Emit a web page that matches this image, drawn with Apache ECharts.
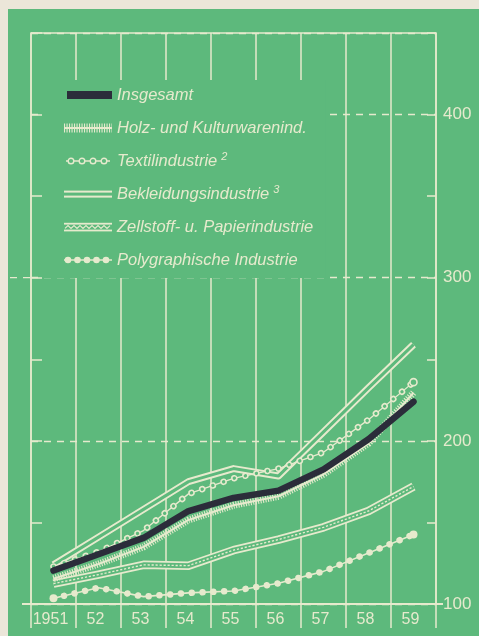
<!DOCTYPE html>
<html>
<head>
<meta charset="utf-8">
<script src="https://cdn.jsdelivr.net/npm/echarts@6/dist/echarts.min.js"></script>
<style>
  html, body { margin: 0; padding: 0; width: 479px; height: 636px; background: #ebe6d9; overflow: hidden; }
  #chart { position: absolute; left: 8px; top: 9px; width: 471px; height: 627px; }
</style>
</head>
<body>
<div id="chart"></div>
<script>
// ---- data ----
const years = ['1951', '52', '53', '54', '55', '56', '57', '58', '59'];
const insgesamt  = [120.5, 130.5, 140.5, 157, 165, 169.5, 182.5, 201, 224];
const holz       = [115.5, 124.5, 135, 151.5, 160.5, 166, 179.5, 198.5, 229.5];
const textil     = [123, 132, 145, 167.5, 177, 183, 193, 213, 236];
const bekleidung = [124, 141, 158, 175, 183, 178.5, 205.5, 232.5, 259];
const zellstoff  = [112.5, 118, 124, 123.5, 133, 139.5, 147, 157, 172];
const polygraph  = [103.5, 110, 104.5, 106.8, 108, 112.7, 120, 131.3, 142.6];
const yTickLabels = [100, 200, 300, 400];
const seriesNames = ['Insgesamt', 'Holz- und Kulturwarenind.', 'Textilindustrie', 'Bekleidungsindustrie', 'Zellstoff- u. Papierindustrie', 'Polygraphische Industrie'];
const superscripts = { 'Textilindustrie': '2', 'Bekleidungsindustrie': '3' };

// ---- styling ----
const C = '#e6eacd';   // cream
const G = '#5db97c';   // green
const D = '#2b2d3a';   // dark
const FONT = '"Liberation Sans", Arial, sans-serif';

function svgIcon(body) {
  return 'image://data:image/svg+xml;charset=utf-8,' + encodeURIComponent(
    '<svg xmlns="http://www.w3.org/2000/svg" width="48" height="12" viewBox="0 0 48 12">' + body + '</svg>');
}
function zig() {
  let p = [];
  for (let x = 1, k = 0; x <= 47; x += 3, k++) p.push(x + ',' + (k % 2 ? 4.6 : 7.4));
  return '<polyline points="' + p.join(' ') + '" fill="none" stroke="' + C + '" stroke-width="1.1"/>';
}
const icons = [
  '<rect x="3" y="2" width="45" height="8" fill="' + D + '"/>',
  '<line x1="0" y1="6" x2="48" y2="6" stroke="' + C + '" stroke-width="9" stroke-dasharray="1.1 1.4"/><line x1="0" y1="6" x2="48" y2="6" stroke="' + C + '" stroke-width="2"/>',
  '<line x1="2" y1="6" x2="46" y2="6" stroke="' + C + '" stroke-width="1.3"/>' +
    [7, 18, 29, 40].map(x => '<circle cx="' + x + '" cy="6" r="2.8" fill="' + G + '" stroke="' + C + '" stroke-width="1.4"/>').join(''),
  '<rect x="0" y="2.6" width="48" height="2" fill="' + C + '"/><rect x="0" y="7.6" width="48" height="2" fill="' + C + '"/>',
  '<rect x="0" y="1.8" width="48" height="1.8" fill="' + C + '"/><rect x="0" y="8.6" width="48" height="1.8" fill="' + C + '"/>' + zig(),
  '<line x1="0" y1="6" x2="48" y2="6" stroke="' + C + '" stroke-width="1.5"/>' +
    [4, 13.5, 23, 32.5, 42].map(x => '<circle cx="' + x + '" cy="6" r="3.3" fill="' + C + '"/>').join('')
];

function layer(name, data, ls, extra) {
  return Object.assign({
    name: name, type: 'line', data: data, yAxisIndex: 0,
    symbol: 'none', showSymbol: false, silent: true, animation: false,
    emphasis: { disabled: true },
    lineStyle: Object.assign({ join: 'round' }, ls)
  }, extra || {});
}
function endPoints(arr, first, last, style, size) {
  return arr.map((v, i) => ({
    value: v,
    symbol: ((i === 0 && first) || (i === arr.length - 1 && last)) ? 'circle' : 'none',
    symbolSize: size,
    itemStyle: style
  }));
}

const series = [
  layer(seriesNames[3], bekleidung, { color: C, width: 7 }),
  layer(seriesNames[3], bekleidung, { color: G, width: 3 }),
  layer(seriesNames[4], zellstoff, { color: C, width: 8.5 }),
  layer(seriesNames[4], zellstoff, { color: G, width: 5 }),
  layer(seriesNames[4], zellstoff, { color: C, width: 1.4, type: [2.2, 1.8] }),
  layer(seriesNames[5], polygraph, { color: C, width: 1.6 }),
  layer(seriesNames[5], endPoints(polygraph, true, true, { color: C }, 8),
        { color: C, width: 6.5, type: [0.01, 10.8], cap: 'round' }, { showSymbol: true }),
  layer(seriesNames[1], holz, { color: C, width: 7, type: [1.1, 1.4] }),
  layer(seriesNames[1], holz, { color: C, width: 2 }),
  layer(seriesNames[2], textil, { color: C, width: 1.3 }),
  layer(seriesNames[2], textil, { color: C, width: 6.5, type: [0.01, 11.3], cap: 'round' }),
  layer(seriesNames[2], endPoints(textil, false, true, { color: G, borderColor: C, borderWidth: 1.6 }, 7),
        { color: G, width: 3.4, type: [0.01, 11.3], cap: 'round' }, { showSymbol: true }),
  layer(seriesNames[0], insgesamt, { color: D, width: 6.5, cap: 'round' })
];

const GRID = { left: 23, right: 43, top: 24, bottom: 32 };
const chart = echarts.init(document.getElementById('chart'), null, { renderer: 'canvas' });
chart.setOption({
  animation: false,
  backgroundColor: G,
  grid: Object.assign({ show: true, borderColor: C, borderWidth: 1.5, backgroundColor: 'transparent' }, GRID),
  legend: {
    orient: 'vertical', left: 35, top: 71,
    padding: [5, 12, 8, 21],
    backgroundColor: G,
    itemWidth: 48, itemHeight: 12, itemGap: 13,
    selectedMode: false,
    data: seriesNames.map((n, i) => ({ name: n, icon: svgIcon(icons[i]) })),
    formatter: n => superscripts[n] ? n + '{sup|' + superscripts[n] + '}' : n,
    textStyle: {
      color: C, fontSize: 16.5, fontStyle: 'italic', fontFamily: FONT, lineHeight: 20,
      rich: { sup: { color: C, fontSize: 11, fontStyle: 'italic', fontFamily: FONT, lineHeight: 12, verticalAlign: 'top', padding: [0, 0, 0, 4] } }
    }
  },
  xAxis: {
    type: 'category', data: years, boundaryGap: true,
    axisLine: { show: true, lineStyle: { color: C, width: 2 } },
    axisTick: { show: true, inside: false, length: 24, lineStyle: { color: C, width: 1.5 } },
    axisLabel: { color: C, fontSize: 16, fontFamily: FONT, margin: 8, interval: 0, padding: [0, 6, 0, 0] },
    splitLine: { show: true, lineStyle: { color: C, width: 1.5 } }
  },
  yAxis: [
    {
      type: 'value', position: 'right', min: 100, max: 450, interval: 100,
      axisLine: { show: false }, axisTick: { show: false },
      axisLabel: { color: C, fontSize: 17, fontFamily: FONT, margin: 7,
                   formatter: v => yTickLabels.indexOf(v) >= 0 ? String(v) : '' },
      splitLine: { show: true, lineStyle: { color: C, width: 1.3, type: [7, 6] } }
    },
    {
      type: 'value', position: 'left', min: 100, max: 450, interval: 50,
      axisLine: { show: false }, axisLabel: { show: false }, splitLine: { show: false },
      axisTick: { show: true, inside: true, length: 11, lineStyle: { color: C, width: 1.5 } }
    },
    {
      type: 'value', position: 'right', min: 100, max: 450, interval: 50,
      axisLine: { show: false }, axisLabel: { show: false }, splitLine: { show: false },
      axisTick: { show: true, inside: true, length: 9, lineStyle: { color: C, width: 1.5 } }
    }
  ],
  series: series
});

// decorative extensions of the base line and the 300 guide, positioned from the axis scale
const yBase = chart.convertToPixel({ yAxisIndex: 0 }, 100);
const y300 = chart.convertToPixel({ yAxisIndex: 0 }, 300);
const W = chart.getWidth();
chart.setOption({
  graphic: [
    { type: 'line', silent: true, z: 5, shape: { x1: GRID.left - 9, y1: yBase, x2: W - GRID.right + 7, y2: yBase }, style: { stroke: C, lineWidth: 2 } },
    { type: 'line', silent: true, z: 1, shape: { x1: 2, y1: y300, x2: GRID.left, y2: y300 }, style: { stroke: C, lineWidth: 1.3, lineDash: [7, 6] } }
  ]
});
</script>
</body>
</html>
